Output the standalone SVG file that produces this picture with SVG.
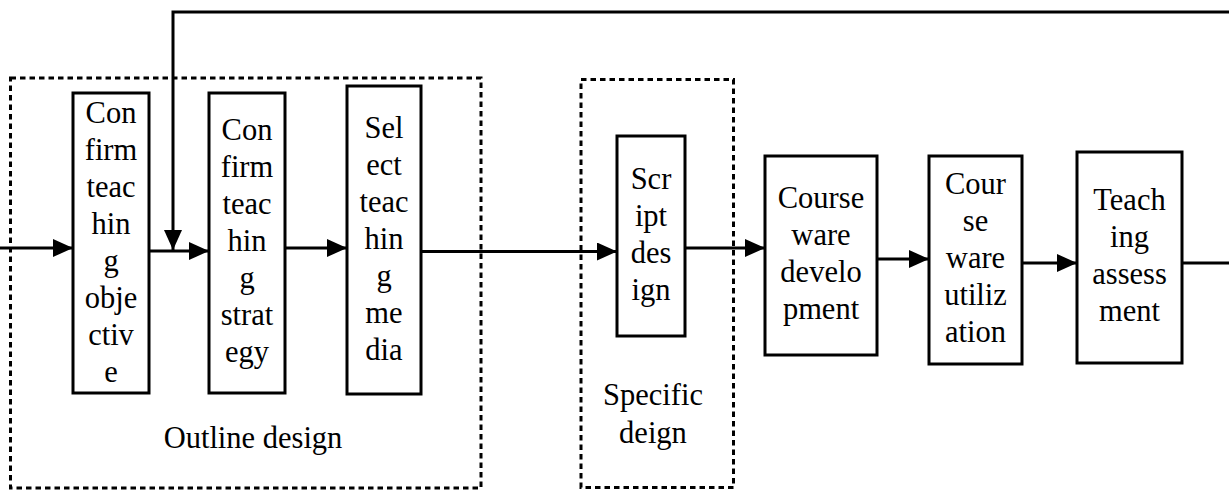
<svg xmlns="http://www.w3.org/2000/svg" width="1229" height="490" viewBox="0 0 1229 490">
<style>
.box{fill:#fff;stroke:#000;stroke-width:3}
.grp{fill:none;stroke:#000;stroke-width:3;stroke-dasharray:5.5 4}
.ln{fill:none;stroke:#000;stroke-width:3}
text{font-size:30.5px;fill:#000;text-anchor:middle}
</style>
<defs>
<marker id="ah" markerUnits="userSpaceOnUse" markerWidth="20" markerHeight="18" refX="20" refY="9" orient="auto">
<path d="M0,0 L20,9 L0,18 z" fill="#000"/>
</marker>
</defs>
<rect width="1229" height="490" fill="#fff"/>
<g font-family="Liberation Serif, Times New Roman, serif">
<g id="outline-group">
<rect class="grp" x="10.5" y="78" width="470.5" height="410"/>
<text x="253" y="448">Outline design</text>
</g>
<g id="specific-group">
<rect class="grp" x="581" y="79.5" width="152.5" height="408"/>
<text x="653" y="405">Specific</text>
<text x="653" y="443">deign</text>
</g>
<g id="connectors">
<line class="ln" x1="0" y1="248" x2="73" y2="248" marker-end="url(#ah)"/>
<polyline class="ln" points="1229,12 173,12 173,250" marker-end="url(#ah)"/>
<line class="ln" x1="149" y1="251" x2="209" y2="251" marker-end="url(#ah)"/>
<line class="ln" x1="285" y1="248" x2="347" y2="248" marker-end="url(#ah)"/>
<line class="ln" x1="421" y1="251.5" x2="617" y2="251.5" marker-end="url(#ah)"/>
<line class="ln" x1="685" y1="248" x2="765" y2="248" marker-end="url(#ah)"/>
<line class="ln" x1="877" y1="259" x2="929" y2="259" marker-end="url(#ah)"/>
<line class="ln" x1="1022" y1="263" x2="1077" y2="263" marker-end="url(#ah)"/>
<line class="ln" x1="1182" y1="263" x2="1229" y2="263"/>
</g>
<g id="n1">
<rect class="box" x="73" y="93" width="76" height="300"/>
<text x="111" y="122.5">Con</text><text x="111" y="159.5">firm</text><text x="111" y="196.5">teac</text><text x="111" y="233.5">hin</text><text x="111" y="270.5">g</text><text x="111" y="307.5">obje</text><text x="111" y="344.5">ctiv</text><text x="111" y="381.5">e</text>
</g>
<g id="n2">
<rect class="box" x="209" y="93" width="76" height="300"/>
<text x="247" y="140">Con</text><text x="247" y="177">firm</text><text x="247" y="214">teac</text><text x="247" y="251">hin</text><text x="247" y="288">g</text><text x="247" y="325">strat</text><text x="247" y="362">egy</text>
</g>
<g id="n3">
<rect class="box" x="347" y="86" width="74" height="308"/>
<text x="384" y="137.5">Sel</text><text x="384" y="174.5">ect</text><text x="384" y="211.5">teac</text><text x="384" y="248.5">hin</text><text x="384" y="285.5">g</text><text x="384" y="322.5">me</text><text x="384" y="359.5">dia</text>
</g>
<g id="n4">
<rect class="box" x="617" y="136" width="68" height="200"/>
<text x="651" y="188.5">Scr</text><text x="651" y="225.5">ipt</text><text x="651" y="262.5">des</text><text x="651" y="299.5">ign</text>
</g>
<g id="n5">
<rect class="box" x="765" y="156" width="112" height="199"/>
<text x="821" y="208">Course</text><text x="821" y="245">ware</text><text x="821" y="282">develo</text><text x="821" y="319">pment</text>
</g>
<g id="n6">
<rect class="box" x="929" y="156" width="93" height="208"/>
<text x="975.5" y="193.5">Cour</text><text x="975.5" y="230.5">se</text><text x="975.5" y="267.5">ware</text><text x="975.5" y="304.5">utiliz</text><text x="975.5" y="341.5">ation</text>
</g>
<g id="n7">
<rect class="box" x="1077" y="152" width="105" height="211"/>
<text x="1129.5" y="210">Teach</text><text x="1129.5" y="247">ing</text><text x="1129.5" y="284">assess</text><text x="1129.5" y="321">ment</text>
</g>
</g>
</svg>
